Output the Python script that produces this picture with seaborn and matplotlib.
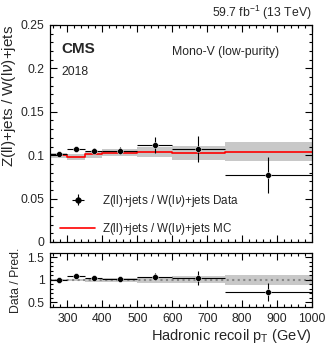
import numpy as np
import pandas as pd
import matplotlib
matplotlib.use("Agg")
import matplotlib.pyplot as plt
from matplotlib.ticker import MultipleLocator, FuncFormatter
import seaborn as sns

# binning in hadronic recoil (GeV)
edges = [250, 300, 350, 400, 500, 600, 750, 1000]
data_val = [0.101, 0.107, 0.105, 0.105, 0.112, 0.1075, 0.077]
data_err = [0.002, 0.002, 0.003, 0.004, 0.009, 0.015, 0.021]
mc_val = [0.100, 0.098, 0.101, 0.103, 0.104, 0.103, 0.104]
mc_err = [0.003, 0.003, 0.004, 0.004, 0.006, 0.008, 0.011]

sns.set_theme(style="ticks")
plt.rcParams["font.family"] = ["Liberation Sans", "DejaVu Sans"]
plt.rcParams["mathtext.fontset"] = "custom"
plt.rcParams["mathtext.rm"] = "Liberation Sans"
plt.rcParams["axes.edgecolor"] = "black"
plt.rcParams["axes.linewidth"] = 0.8

edges = np.array(edges)
centers = (edges[:-1] + edges[1:]) / 2
widths = np.diff(edges)
data_val = np.array(data_val)
data_err = np.array(data_err)
mc_val = np.array(mc_val)
mc_err = np.array(mc_err)
ratio = data_val / mc_val
ratio_err = data_err / mc_val
band_rel = mc_err / mc_val

df = pd.DataFrame({"x": centers, "y": data_val, "r": ratio})
mc_df = pd.DataFrame({"x": np.append(edges[:-1], edges[-1]), "y": np.append(mc_val, mc_val[-1])})
fmt = FuncFormatter(lambda v, p: "%g" % round(v, 3))

fig = plt.figure(figsize=(3.32, 3.47), dpi=100)
ax = fig.add_axes([0.1506, 0.3026, 0.7892, 0.6254])
rax = fig.add_axes([0.1506, 0.1153, 0.7892, 0.1556])

# main panel
ax.bar(centers, 2 * mc_err, bottom=mc_val - mc_err, width=widths, color="#c8c8c8", linewidth=0, zorder=1)
sns.lineplot(data=mc_df, x="x", y="y", drawstyle="steps-post", color="red", linewidth=1.2, ax=ax, zorder=2)
ax.errorbar(centers, data_val, xerr=widths / 2, yerr=data_err, fmt="none", ecolor="black", elinewidth=0.8, zorder=3)
sns.scatterplot(data=df, x="x", y="y", color="black", s=18, ax=ax, zorder=4)

ax.set_xlim(250, 1000)
ax.set_ylim(0, 0.25)
ax.set_xlabel("")
ax.set_ylabel("Z(ll)+jets / W(l$\\nu$)+jets", fontsize=11, loc="top", labelpad=2)
ax.yaxis.set_major_locator(MultipleLocator(0.05))
ax.yaxis.set_major_formatter(fmt)
ax.xaxis.set_major_locator(MultipleLocator(100))
ax.tick_params(labelbottom=False)

# legend
data_h = ax.errorbar([], [], xerr=[], yerr=[], fmt="o", color="black", ms=3.5, elinewidth=0.8)
mc_h, = ax.plot([], [], color="red", linewidth=1.2)
ax.legend([data_h, mc_h], ["Z(ll)+jets / W(l$\\nu$)+jets Data", "Z(ll)+jets / W(l$\\nu$)+jets MC"],
          loc="lower left", bbox_to_anchor=(0.0, -0.025), frameon=False, fontsize=8.4,
          handlelength=3.0, labelspacing=1.05, handletextpad=0.6)

ax.text(0.045, 0.89, "CMS", transform=ax.transAxes, fontsize=11, fontweight="bold", va="center")
ax.text(0.045, 0.785, "2018", transform=ax.transAxes, fontsize=8.8, va="center")
ax.text(0.465, 0.875, "Mono-V (low-purity)", transform=ax.transAxes, fontsize=8.8, va="center")
ax.text(1.0, 1.012, "59.7 fb$^{-1}$ (13 TeV)", transform=ax.transAxes, fontsize=8.8, ha="right", va="bottom")

# ratio panel
rax.bar(centers, 2 * band_rel, bottom=1 - band_rel, width=widths, color="#c8c8c8", linewidth=0, zorder=1)
rax.axhline(1, color="#888888", linestyle=":", linewidth=1.5, zorder=2)
rax.errorbar(centers, ratio, xerr=widths / 2, yerr=ratio_err, fmt="none", ecolor="black", elinewidth=0.8, zorder=3)
sns.scatterplot(data=df, x="x", y="r", color="black", s=18, ax=rax, zorder=4)

rax.set_xlim(250, 1000)
rax.set_ylim(0.4, 1.6)
rax.yaxis.set_major_locator(MultipleLocator(0.5))
rax.yaxis.set_major_formatter(fmt)
rax.xaxis.set_major_locator(MultipleLocator(100))
rax.set_ylabel("Data / Pred.", fontsize=8.8, labelpad=4)
rax.set_xlabel("Hadronic recoil p$_{\\mathregular{T}}$ (GeV)", fontsize=10.5, loc="right", labelpad=2)

for a in (ax, rax):
    a.tick_params(which="both", length=0, labelsize=8.8, pad=4)

# transparent overlay axes that carry the inward tick marks
for a, ymaj, ymin in ((ax, 0.05, 0.01), (rax, 0.5, 0.1)):
    ov = fig.add_axes(a.get_position(), facecolor="none")
    ov.set_zorder(a.get_zorder() + 1)
    ov.patch.set_visible(False)
    ov.set_xlim(a.get_xlim())
    ov.set_ylim(a.get_ylim())
    ov.xaxis.set_major_locator(MultipleLocator(100))
    ov.xaxis.set_minor_locator(MultipleLocator(20))
    ov.yaxis.set_major_locator(MultipleLocator(ymaj))
    ov.yaxis.set_minor_locator(MultipleLocator(ymin))
    ov.tick_params(which="both", direction="in", top=True, right=True, bottom=True, left=True,
                   labelbottom=False, labelleft=False, labeltop=False, labelright=False,
                   width=0.8, color="black")
    ov.tick_params(which="major", length=5)
    ov.tick_params(which="minor", length=2.5)

fig.savefig("out.png", dpi=100)
